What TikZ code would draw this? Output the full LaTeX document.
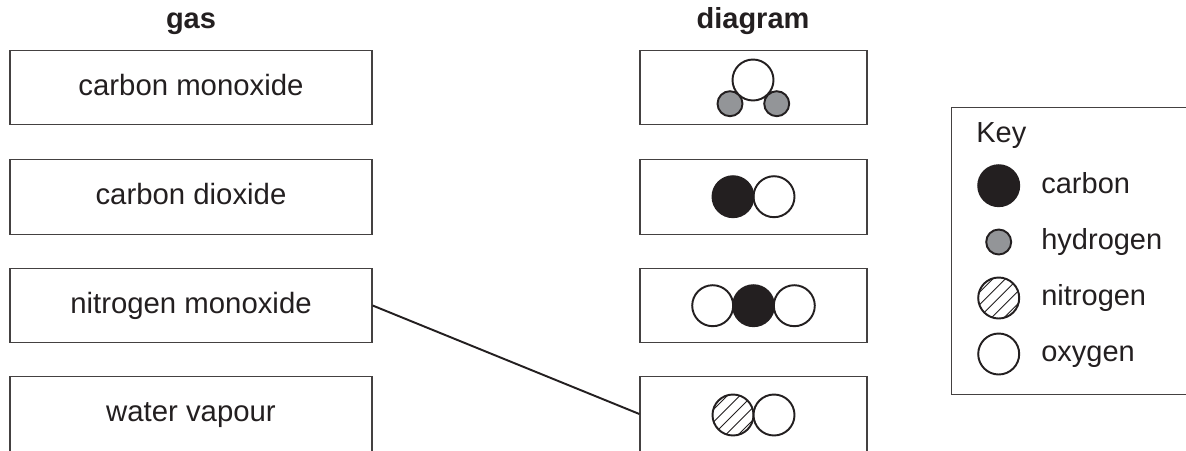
\documentclass[tikz,border=0pt]{standalone}
\usepackage{fontspec}
\setmainfont{Liberation Sans}
\usetikzlibrary{positioning}
\definecolor{inkblack}{HTML}{231F20}
\definecolor{atomgrey}{HTML}{939598}
\tikzset{
  box/.style={draw=inkblack!85,line width=0.75pt,minimum width=4.54cm,minimum height=1.49cm,
    inner sep=0pt,text=inkblack,text height=12pt,text depth=3pt,font=\fontsize{16.7}{20}\selectfont},
  pic box/.style={box,minimum width=7.24cm},
  atom/.style={circle,draw=inkblack,line width=1.1pt,inner sep=0pt,outer sep=0pt,minimum size=0.82cm,fill=white},
  carbon/.style={atom,fill=inkblack},
  hydrogen/.style={atom,fill=atomgrey,minimum size=0.5cm},
  oxygen/.style={atom},
  nitrogen/.style={atom,path picture={
    \foreach \d in {-1.0,-0.75,...,0.0}
      \draw[inkblack,line width=0.45pt]
        ([xshift=\d cm,yshift=-0.5cm]path picture bounding box.center)--
        ([xshift=\d cm+1cm,yshift=0.5cm]path picture bounding box.center);}},
  title/.style={text=inkblack,font=\fontsize{16.5}{20}\selectfont\bfseries,anchor=base,inner sep=0pt},
  keytext/.style={text=inkblack,font=\fontsize{16.5}{20}\selectfont,anchor=base west,inner sep=0pt}
}
\begin{document}
\begin{tikzpicture}[x=0.02cm,y=-0.02cm]
  \path[use as bounding box,clip](0,0)rectangle(1186,450);
  \node[title](gastitle)at(191,28){gas};
  \node[title](diagramtitle)at(753,28){diagram};
  % gas boxes
  \node[pic box](gasa)at(191,87.5){carbon monoxide};
  \node[pic box](gasb)at(191,197){carbon dioxide};
  \node[pic box](gasc)at(191,305.5){nitrogen monoxide};
  \node[pic box](gasd)at(191,414){water vapour};
  % diagram boxes
  \node[box](diaga)at(753.5,87.5){};
  \node[box](diagb)at(753.5,197){};
  \node[box](diagc)at(753.5,305.5){};
  \node[box](diagd)at(753.5,414){};
  \draw[inkblack,line width=1.1pt](gasc.east)--(diagd.west);
  % molecules
  \node[hydrogen](ha)at(730,103.7){};
  \node[hydrogen](hb)at(776.7,103.7){};
  \node[oxygen](oa)at(753,80){};
  \node[oxygen](ob)at(774,196.7){};
  \node[carbon](ca)at(733,196.7){};
  \node[oxygen](oc)at(712.7,305.7){};
  \node[oxygen](od)at(794.3,305.7){};
  \node[carbon](cb)at(753.5,305.7){};
  \node[nitrogen](na)at(733,415){};
  \node[oxygen](oe)at(774,415){};
  % key
  \node[draw=inkblack!85,line width=0.75pt,minimum width=5cm,minimum height=5.74cm,anchor=north west,
    inner sep=0pt](keybox)at(951,107){};
  \node[keytext](keytitle)at(976,142){Key};
  \node[carbon](keyc)at(998.7,185.7){};
  \node[hydrogen](keyh)at(998.7,242){};
  \node[nitrogen](keyn)at(998.7,298){};
  \node[oxygen](keyo)at(998.7,354){};
  \node[keytext](labelc)at(1041,193){carbon};
  \node[keytext](labelh)at(1041,249){hydrogen};
  \node[keytext](labeln)at(1041,305){nitrogen};
  \node[keytext](labelo)at(1041,361){oxygen};
\end{tikzpicture}
\end{document}
